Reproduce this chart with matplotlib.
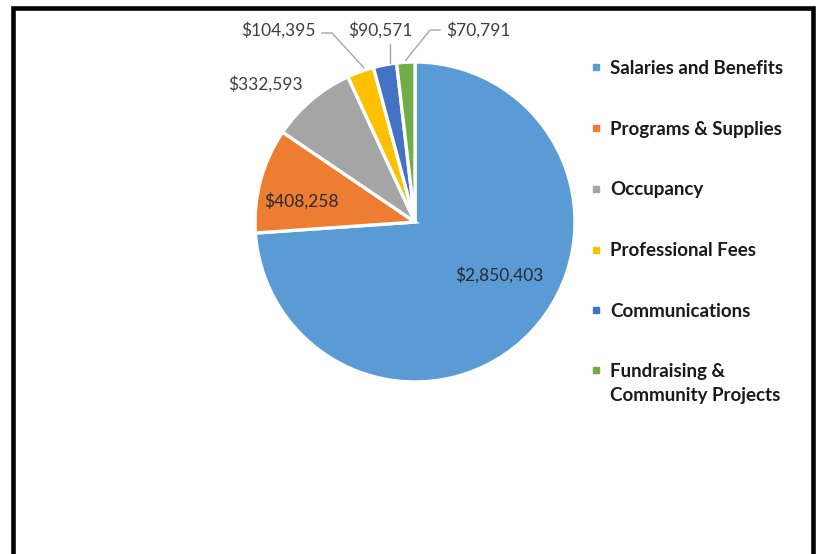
import matplotlib
matplotlib.use("Agg")
import matplotlib.pyplot as plt
from matplotlib.lines import Line2D
from matplotlib.legend_handler import HandlerLine2D
from matplotlib.patches import Rectangle
import numpy as np

categories = ["Salaries and Benefits", "Programs & Supplies", "Occupancy",
              "Professional Fees", "Communications", "Fundraising &\nCommunity Projects"]
values = [2850403, 408258, 332593, 104395, 90571, 70791]
value_labels = ["$2,850,403", "$408,258", "$332,593", "$104,395", "$90,571", "$70,791"]
colors = ["#5B9BD5", "#ED7D31", "#A5A5A5", "#FFC000", "#4472C4", "#70AD47"]

W, H = 817, 554
fig = plt.figure(figsize=(W / 100, H / 100), dpi=100)
ax = fig.add_axes([0, 0, 1, 1])

cx, cy, R = 415, H - 222, 160
wedges, _ = ax.pie(values, colors=colors, startangle=90, counterclock=False,
                   center=(cx, cy), radius=R, frame=True,
                   wedgeprops=dict(edgecolor="white", linewidth=2.4))
ax.set_xlim(0, W)
ax.set_ylim(0, H)
ax.axis("off")

FONT = "Lato"
lab_color = "#404040"

# label placement (image pixel coords: x, y from top)
inside_pos = {0: (499, 275), 1: (301, 201)}
outside_pos = {2: (265, 84), 3: (278, 30), 4: (380, 30), 5: (478, 30)}

for i, w in enumerate(wedges):
    if i in inside_pos:
        x, y = inside_pos[i]
        ax.text(x, H - y, value_labels[i], ha="center", va="center",
                fontsize=12.5, family=FONT, color="#262b33")
    else:
        x, y = outside_pos[i]
        ax.text(x, H - y, value_labels[i], ha="center", va="center",
                fontsize=12.5, family=FONT, color=lab_color)


def edge_point(i, r):
    mid = np.deg2rad((wedges[i].theta1 + wedges[i].theta2) / 2)
    return cx + r * np.cos(mid), cy + r * np.sin(mid)


lc = "#A6A6A6"
p3 = edge_point(3, R + 2)
ax.plot([322, 332, p3[0] + 4], [H - 33, H - 33, p3[1] + 2], color=lc, lw=1)
p4 = edge_point(4, R + 2)
ax.plot([p4[0] + 5, p4[0] + 5], [H - 44, p4[1]], color=lc, lw=1)
p5 = edge_point(5, R + 2)
ax.plot([440, 430, p5[0]], [H - 30, H - 30, p5[1]], color=lc, lw=1)


class OffsetHandler(HandlerLine2D):
    def __init__(self, dy, **kw):
        super().__init__(**kw)
        self.dy = dy

    def create_artists(self, legend, orig_handle, xdescent, ydescent, width,
                       height, fontsize, trans):
        arts = super().create_artists(legend, orig_handle, xdescent, ydescent,
                                      width, height, fontsize, trans)
        for a in arts:
            a.set_ydata(np.asarray(a.get_ydata(), dtype=float) + self.dy)
        return arts


handles = [Line2D([], [], marker="s", linestyle="none", markersize=4.0,
                  markerfacecolor=c, markeredgecolor=c) for c in colors]
leg = fig.legend(handles, categories, loc="upper left",
                 bbox_to_anchor=(590 / W, 1 - 60 / H), frameon=False,
                 prop=dict(family=FONT, weight="bold", size=13.5),
                 labelspacing=2.33, handlelength=0.6, handletextpad=0.48,
                 borderaxespad=0, borderpad=0,
                 handler_map={handles[-1]: OffsetHandler(10.2)})
for t in leg.get_texts():
    t.set_color("#1a1a1a")
    t.set_linespacing(1.45)

fig.add_artist(Rectangle((13 / W, -0.05), (813 - 13) / W, 1.05 - 8 / H,
                         transform=fig.transFigure, fill=False,
                         edgecolor="black", linewidth=3.3))

fig.savefig("out.png", dpi=100)
